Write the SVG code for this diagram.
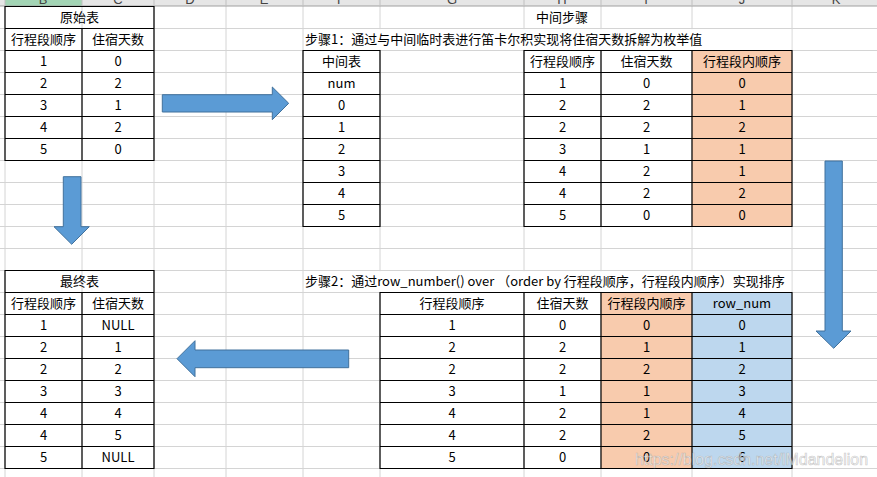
<svg xmlns="http://www.w3.org/2000/svg" width="877" height="477" viewBox="0 0 877 477">
<style>
.t{font-family:"Noto Sans CJK SC","Microsoft YaHei",sans-serif;font-size:13px;fill:#000;text-anchor:middle}
.s{text-anchor:start}
.hd{font-family:"Liberation Sans",Arial,sans-serif;font-size:13px;fill:#444;text-anchor:middle}
.grid{stroke:#D4D4D4;stroke-width:1;fill:none}
.bd{stroke:#000;stroke-width:1.2;fill:none}
.arrow{fill:#5B9BD5;stroke:#41719C;stroke-width:1}
.peach{fill:#F8CBAD}
.blue{fill:#BDD7EE}
.wm{font-family:"Liberation Sans",Arial,sans-serif;font-size:17px;fill:#fff;fill-opacity:0.65;stroke:#9a9a9a;stroke-opacity:0.55;stroke-width:0.7}
</style>
<rect x="0" y="0" width="877" height="477" fill="#fff"/>
<g id="sheet-grid">
<path class="grid" d="M0 28.5H877M0 50.5H877M0 72.5H877M0 94.5H877M0 116.5H877M0 138.5H877M0 160.5H877M0 182.5H877M0 204.5H877M0 226.5H877M0 248.5H877M0 270.5H877M0 292.5H877M0 314.5H877M0 336.5H877M0 358.5H877M0 380.5H877M0 402.5H877M0 424.5H877M0 446.5H877M0 468.5H877"/>
<path class="grid" d="M5 6V477M82 6V477M154 6V477M226 6V477M303 6V477M380 6V477M524 6V477M601 6V477M692 6V477M792 6V477"/>
<rect x="304" y="29.2" width="487.3" height="20.6" fill="#fff"/>
<rect x="304" y="271.2" width="487.3" height="20.6" fill="#fff"/>
</g>
<g id="column-header">
<rect x="0" y="0" width="877" height="6" fill="#E6E6E6"/>
<rect x="5" y="0" width="77" height="6" fill="#A3D5B5"/>
<path d="M0 6H877" stroke="#A0A0A0" stroke-width="1"/>
<path d="M5 0V6M82 0V6M154 0V6M226 0V6M303 0V6M380 0V6M524 0V6M601 0V6M692 0V6M792 0V6" stroke="#C0C0C0" stroke-width="1"/>
<text class="hd" x="43" y="4">B</text>
<text class="hd" x="118" y="4">C</text>
<text class="hd" x="190" y="4">D</text>
<text class="hd" x="264" y="4">E</text>
<text class="hd" x="341" y="4">F</text>
<text class="hd" x="452" y="4">G</text>
<text class="hd" x="562" y="4">H</text>
<text class="hd" x="646" y="4">I</text>
<text class="hd" x="742" y="4">J</text>
<text class="hd" x="836" y="4">K</text>
</g>
<g id="original-table">
<path class="bd" d="M5 6.5H154M5 28.5H154M5 50.5H154M5 72.5H154M5 94.5H154M5 116.5H154M5 138.5H154M5 160.5H154M5 6V161M154 6V161M82 28V161"/>
<text class="t" x="79.5" y="22">原始表</text>
<text class="t" x="43.5" y="44">行程段顺序</text><text class="t" x="118" y="44">住宿天数</text>
<text class="t" x="43.5" y="66">1</text><text class="t" x="118" y="66">0</text>
<text class="t" x="43.5" y="88">2</text><text class="t" x="118" y="88">2</text>
<text class="t" x="43.5" y="110">3</text><text class="t" x="118" y="110">1</text>
<text class="t" x="43.5" y="132">4</text><text class="t" x="118" y="132">2</text>
<text class="t" x="43.5" y="154">5</text><text class="t" x="118" y="154">0</text>
</g>
<g id="step-title">
<text class="t" x="562" y="22">中间步骤</text>
<text class="t s" x="305" y="44">步骤1：通过与中间临时表进行笛卡尔积实现将住宿天数拆解为枚举值</text>
</g>
<g id="temp-table">
<path class="bd" d="M303 50.5H380M303 72.5H380M303 94.5H380M303 116.5H380M303 138.5H380M303 160.5H380M303 182.5H380M303 204.5H380M303 226.5H380M303 50V227M380 50V227"/>
<text class="t" x="341.5" y="66">中间表</text>
<text class="t" x="341.5" y="88">num</text>
<text class="t" x="341.5" y="110">0</text>
<text class="t" x="341.5" y="132">1</text>
<text class="t" x="341.5" y="154">2</text>
<text class="t" x="341.5" y="176">3</text>
<text class="t" x="341.5" y="198">4</text>
<text class="t" x="341.5" y="220">5</text>
</g>
<g id="step1-table">
<rect class="peach" x="692" y="50.5" width="100" height="176"/>
<path class="bd" d="M524 50.5H792M524 72.5H792M524 94.5H792M524 116.5H792M524 138.5H792M524 160.5H792M524 182.5H792M524 204.5H792M524 226.5H792M524 50V227M601 50V227M692 50V227M792 50V227"/>
<text class="t" x="562.5" y="66">行程段顺序</text><text class="t" x="646.5" y="66">住宿天数</text><text class="t" x="742" y="66">行程段内顺序</text>
<text class="t" x="562.5" y="88">1</text><text class="t" x="646.5" y="88">0</text><text class="t" x="742" y="88">0</text>
<text class="t" x="562.5" y="110">2</text><text class="t" x="646.5" y="110">2</text><text class="t" x="742" y="110">1</text>
<text class="t" x="562.5" y="132">2</text><text class="t" x="646.5" y="132">2</text><text class="t" x="742" y="132">2</text>
<text class="t" x="562.5" y="154">3</text><text class="t" x="646.5" y="154">1</text><text class="t" x="742" y="154">1</text>
<text class="t" x="562.5" y="176">4</text><text class="t" x="646.5" y="176">2</text><text class="t" x="742" y="176">1</text>
<text class="t" x="562.5" y="198">4</text><text class="t" x="646.5" y="198">2</text><text class="t" x="742" y="198">2</text>
<text class="t" x="562.5" y="220">5</text><text class="t" x="646.5" y="220">0</text><text class="t" x="742" y="220">0</text>
</g>
<g id="final-table">
<path class="bd" d="M5 270.5H154M5 292.5H154M5 314.5H154M5 336.5H154M5 358.5H154M5 380.5H154M5 402.5H154M5 424.5H154M5 446.5H154M5 468.5H154M5 270V469M154 270V469M82 292V469"/>
<text class="t" x="79.5" y="286">最终表</text>
<text class="t" x="43.5" y="308">行程段顺序</text><text class="t" x="118" y="308">住宿天数</text>
<text class="t" x="43.5" y="330">1</text><text class="t" x="118" y="330">NULL</text>
<text class="t" x="43.5" y="352">2</text><text class="t" x="118" y="352">1</text>
<text class="t" x="43.5" y="374">2</text><text class="t" x="118" y="374">2</text>
<text class="t" x="43.5" y="396">3</text><text class="t" x="118" y="396">3</text>
<text class="t" x="43.5" y="418">4</text><text class="t" x="118" y="418">4</text>
<text class="t" x="43.5" y="440">4</text><text class="t" x="118" y="440">5</text>
<text class="t" x="43.5" y="462">5</text><text class="t" x="118" y="462">NULL</text>
</g>
<g id="step2-title">
<text class="t s" x="305" y="286">步骤2：通过row_number() over （order by 行程段顺序，行程段内顺序）实现排序</text>
</g>
<g id="step2-table">
<rect class="peach" x="601" y="292.5" width="91" height="176"/>
<rect class="blue" x="692" y="292.5" width="100" height="176"/>
<path class="bd" d="M380 292.5H792M380 314.5H792M380 336.5H792M380 358.5H792M380 380.5H792M380 402.5H792M380 424.5H792M380 446.5H792M380 468.5H792M380 292V469M524 292V469M601 292V469M692 292V469M792 292V469"/>
<text class="t" x="452" y="308">行程段顺序</text><text class="t" x="562.5" y="308">住宿天数</text><text class="t" x="646.5" y="308">行程段内顺序</text><text class="t" x="742" y="308">row_num</text>
<text class="t" x="452" y="330">1</text><text class="t" x="562.5" y="330">0</text><text class="t" x="646.5" y="330">0</text><text class="t" x="742" y="330">0</text>
<text class="t" x="452" y="352">2</text><text class="t" x="562.5" y="352">2</text><text class="t" x="646.5" y="352">1</text><text class="t" x="742" y="352">1</text>
<text class="t" x="452" y="374">2</text><text class="t" x="562.5" y="374">2</text><text class="t" x="646.5" y="374">2</text><text class="t" x="742" y="374">2</text>
<text class="t" x="452" y="396">3</text><text class="t" x="562.5" y="396">1</text><text class="t" x="646.5" y="396">1</text><text class="t" x="742" y="396">3</text>
<text class="t" x="452" y="418">4</text><text class="t" x="562.5" y="418">2</text><text class="t" x="646.5" y="418">1</text><text class="t" x="742" y="418">4</text>
<text class="t" x="452" y="440">4</text><text class="t" x="562.5" y="440">2</text><text class="t" x="646.5" y="440">2</text><text class="t" x="742" y="440">5</text>
<text class="t" x="452" y="462">5</text><text class="t" x="562.5" y="462">0</text><text class="t" x="646.5" y="462">0</text><text class="t" x="742" y="462">6</text>
</g>
<g id="connectors">
<polygon class="arrow" points="162.3,94.7 272.3,94.7 272.3,87 288.7,103.3 272.3,119.7 272.3,112 162.3,112"/>
<polygon class="arrow" points="63.3,176.7 81,176.7 81,226.7 89.3,226.7 71.7,244.3 54,226.7 63.3,226.7"/>
<polygon class="arrow" points="348.7,350 195,350 195,340.7 177,358.7 195,376.7 195,367.7 348.7,367.7"/>
<polygon class="arrow" points="825,161 842.3,161 842.3,331 851,331 833.7,348.3 816,331 825,331"/>
</g>
<text class="wm" x="635" y="465" textLength="233" lengthAdjust="spacingAndGlyphs">https://blog.csdn.net/lMdandelion</text>
</svg>
